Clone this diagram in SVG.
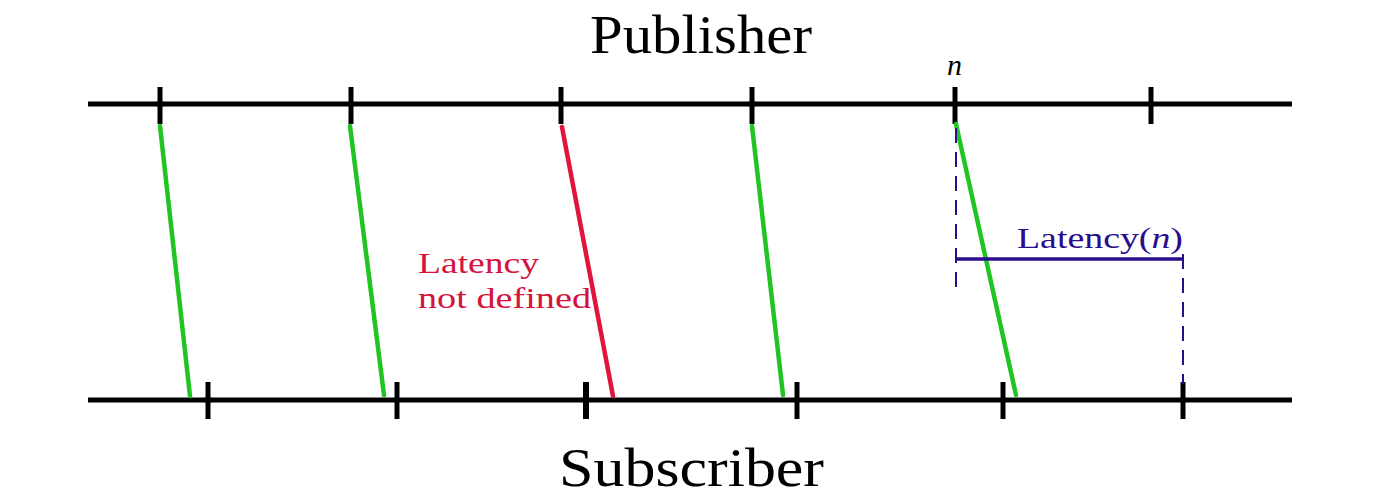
<svg xmlns="http://www.w3.org/2000/svg" width="1388" height="502" viewBox="0 0 1388 502">
<style>
.axis{stroke:#000;stroke-width:5;fill:none}
.tick{stroke:#000;stroke-width:5}
.msg{stroke:#22c424;stroke-width:4.5;stroke-linecap:round}
.lost{stroke:#e0143c;stroke-width:4.5;stroke-linecap:round}
.dash{stroke:#2a0c8c;stroke-width:2;stroke-dasharray:15 9;fill:none}
.meas{stroke:#2a0c8c;stroke-width:3.5}
.title{font-family:"Liberation Serif","DejaVu Serif",serif;font-size:54px;fill:#000}
.lbl{font-family:"Liberation Serif","DejaVu Serif",serif;font-size:30px}
</style>
<rect width="1388" height="502" fill="#fff"/>
<g id="publisher">
<line class="axis" x1="88" y1="104" x2="1292" y2="104"/>
<line class="tick" x1="160" y1="87" x2="160" y2="124"/>
<line class="tick" x1="351" y1="87" x2="351" y2="124"/>
<line class="tick" x1="561" y1="87" x2="561" y2="124"/>
<line class="tick" x1="752" y1="87" x2="752" y2="124"/>
<line class="tick" x1="955" y1="87" x2="955" y2="124"/>
<line class="tick" x1="1151" y1="87" x2="1151" y2="124"/>
<text class="title" x="590" y="53" textLength="222" lengthAdjust="spacingAndGlyphs">Publisher</text>
<text class="lbl" x="947" y="75" font-style="italic" font-size="30">n</text>
</g>
<g id="subscriber">
<line class="axis" x1="88" y1="400" x2="1292" y2="400"/>
<line class="tick" x1="208" y1="382" x2="208" y2="419"/>
<line class="tick" x1="397" y1="382" x2="397" y2="419"/>
<line class="tick" x1="586" y1="382" x2="586" y2="419" style="stroke-width:6"/>
<line class="tick" x1="797" y1="382" x2="797" y2="419"/>
<line class="tick" x1="1003" y1="382" x2="1003" y2="419"/>
<line class="tick" x1="1183" y1="382" x2="1183" y2="419"/>
<text class="title" x="559" y="486" font-size="56" textLength="265" lengthAdjust="spacingAndGlyphs">Subscriber</text>
</g>
<g id="connectors">
<line class="msg" x1="160" y1="126" x2="190" y2="396"/>
<line class="msg" x1="350" y1="126" x2="384" y2="395"/>
<line class="lost" x1="562" y1="127" x2="613" y2="396"/>
<line class="msg" x1="752" y1="126" x2="783" y2="395"/>
<line class="msg" x1="956" y1="124" x2="1016" y2="395"/>
</g>
<g id="latency-undefined">
<text class="lbl" x="418" y="273" fill="#d4143c" textLength="121" lengthAdjust="spacingAndGlyphs">Latency</text>
<text class="lbl" x="418" y="308" fill="#d4143c" textLength="173" lengthAdjust="spacingAndGlyphs">not defined</text>
</g>
<g id="latency-n">
<line class="dash" x1="956" y1="128" x2="956" y2="290"/>
<line class="dash" x1="1183" y1="254" x2="1183" y2="384"/>
<line class="meas" x1="956" y1="259" x2="1183" y2="259"/>
<text class="lbl" x="1017" y="248" fill="#2a0c8c" textLength="166" lengthAdjust="spacingAndGlyphs">Latency(<tspan font-style="italic">n</tspan>)</text>
</g>
</svg>
